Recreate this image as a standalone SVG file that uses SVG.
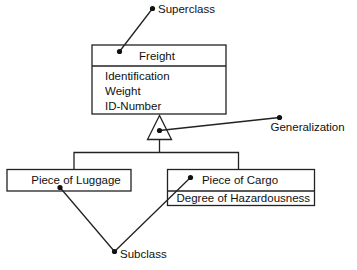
<svg xmlns="http://www.w3.org/2000/svg" width="357" height="270" viewBox="0 0 357 270">
<style>
.box{fill:#fff;stroke:#222;stroke-width:1.3}
.ln{fill:none;stroke:#222;stroke-width:1.3}
.t{font-family:"Liberation Sans",Arial,sans-serif;font-size:11.5px;fill:#111}
.d{fill:#111}
</style>
<rect width="357" height="270" fill="#fff"/>
<g id="freight">
<rect class="box" x="92" y="45" width="134" height="69"/>
<line class="ln" x1="92" y1="66" x2="226" y2="66"/>
<text class="t" x="157" y="59.5" text-anchor="middle">Freight</text>
<text class="t" x="105" y="79.5">Identification</text>
<text class="t" x="105" y="94.5">Weight</text>
<text class="t" x="105" y="109.5">ID-Number</text>
</g>
<g id="generalization-triangle">
<polygon class="box" points="159.5,115.5 147.5,139.5 171.5,139.5"/>
</g>
<g id="luggage">
<rect class="box" x="7" y="169.5" width="124" height="21.5"/>
<text class="t" x="76" y="184" text-anchor="middle">Piece of Luggage</text>
</g>
<g id="cargo">
<rect class="box" x="167.5" y="169.5" width="147" height="36"/>
<line class="ln" x1="167.5" y1="191" x2="314.5" y2="191"/>
<text class="t" x="240" y="183.5" text-anchor="middle">Piece of Cargo</text>
<text class="t" x="176.5" y="202">Degree of Hazardousness</text>
</g>
<g id="connectors">
<path class="ln" d="M159.5,139.5 V152.5 M74,169.5 V152.5 H238.5 V169.5"/>
<path class="ln" d="M119.5,51.5 L152.5,8.5"/>
<path class="ln" d="M159.5,130.5 L279.5,117.5"/>
<path class="ln" d="M60,187.5 L114.5,251.5 L190.5,177.5"/>
</g>
<g id="labels">
<circle class="d" cx="152.5" cy="8.5" r="2.6"/>
<circle class="d" cx="119.5" cy="51.5" r="2.6"/>
<circle class="d" cx="159.5" cy="130.5" r="2.6"/>
<circle class="d" cx="279.5" cy="117.5" r="2.6"/>
<circle class="d" cx="60" cy="187.5" r="2.6"/>
<circle class="d" cx="190.5" cy="177.5" r="2.6"/>
<circle class="d" cx="114.5" cy="251.5" r="2.6"/>
<text class="t" x="158" y="12.5">Superclass</text>
<text class="t" x="270.5" y="131">Generalization</text>
<text class="t" x="120" y="258">Subclass</text>
</g>
</svg>
